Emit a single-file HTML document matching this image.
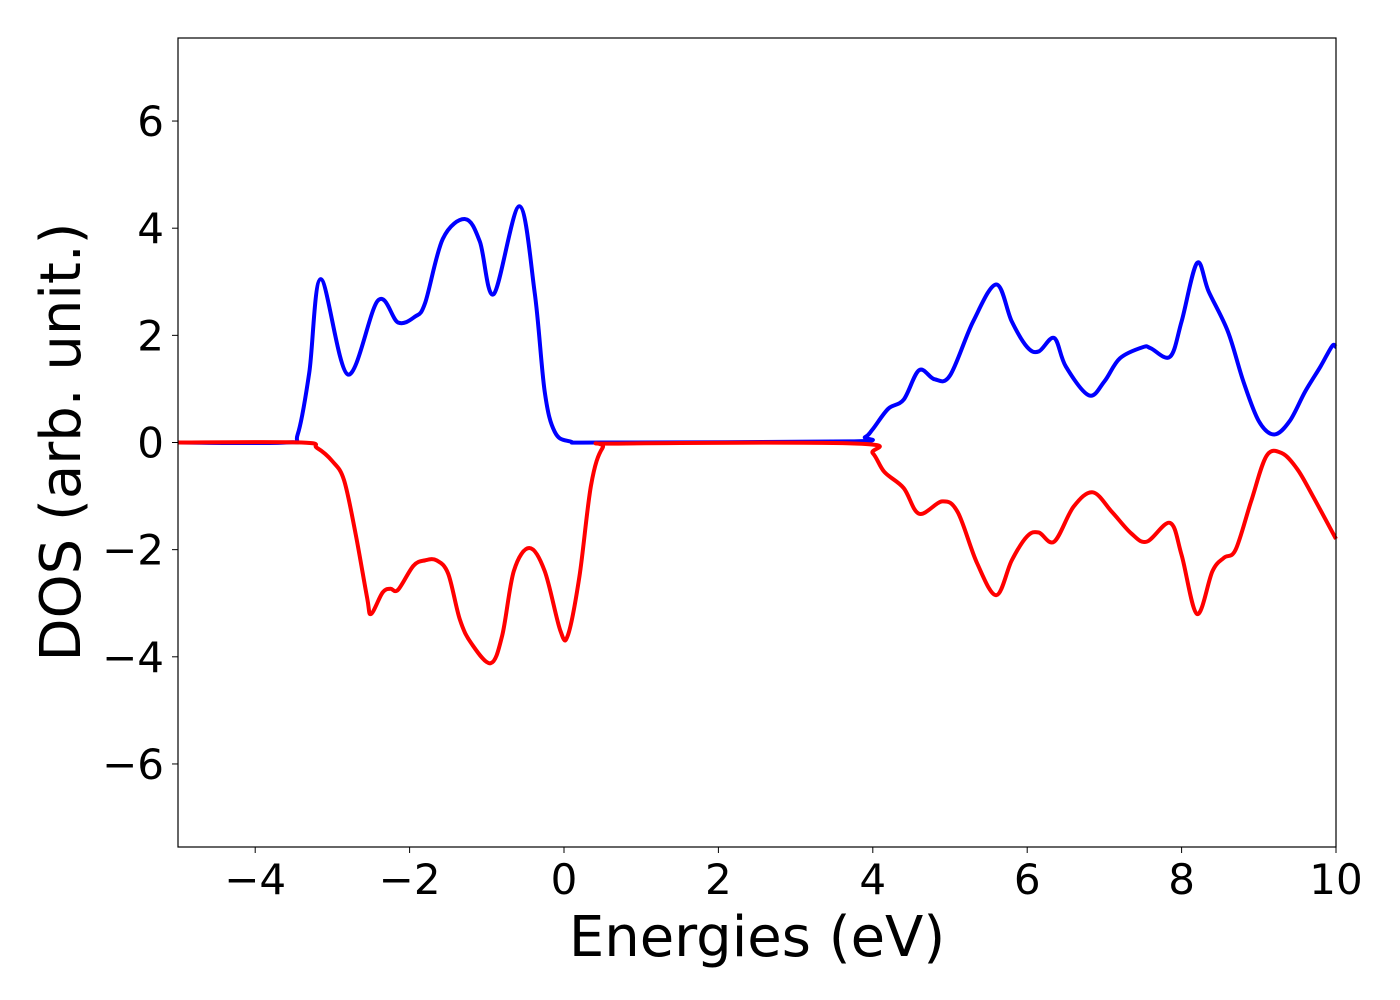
<!DOCTYPE html>
<html><head><meta charset="utf-8"><style>
html,body{margin:0;padding:0;background:#fff;}
svg{display:block;font-family:"DejaVu Sans","Liberation Sans",sans-serif;}
</style></head><body>
<svg id="chart" width="1400" height="1000" viewBox="0 0 1400 1000" xmlns="http://www.w3.org/2000/svg">
<rect width="1400" height="1000" fill="#fff"/>
<g id="plot"></g>
<rect x="178" y="38" width="1158" height="809" fill="none" stroke="#000" stroke-width="1.2"/>
<g id="ticks"></g>
<text x="757" y="956" font-size="56" text-anchor="middle">Energies (eV)</text>
<text transform="translate(80,442) rotate(-90)" font-size="56" text-anchor="middle">DOS (arb. unit.)</text>
</svg>
<script>
const upE = [-5,-3.6,-3.45,-3.3,-3.15,-2.8,-2.41,-2.15,-1.93,-1.8,-1.57,-1.28,-1.09,-0.91,-0.58,-0.38,-0.25,-0.12,0.08,0.5,3.7,3.9,4.0,4.2,4.4,4.6,4.8,5.0,5.3,5.6,5.8,6.0,6.15,6.35,6.5,6.8,7.0,7.2,7.5,7.6,7.85,8.0,8.2,8.35,8.6,8.8,9.0,9.2,9.4,9.6,9.8,9.95,10];
const upD = [0,0,0.15,1.3,3.05,1.27,2.65,2.24,2.35,2.6,3.8,4.17,3.75,2.77,4.41,2.8,0.95,0.2,0.02,0,0.02,0.1,0.25,0.63,0.8,1.35,1.18,1.25,2.26,2.95,2.26,1.78,1.7,1.95,1.42,0.88,1.14,1.57,1.78,1.76,1.6,2.26,3.35,2.82,2.07,1.14,0.4,0.15,0.4,0.95,1.42,1.8,1.78];
const dnE = [-5,-3.4,-3.2,-3.0,-2.85,-2.7,-2.55,-2.5,-2.35,-2.25,-2.15,-1.95,-1.8,-1.65,-1.5,-1.35,-1.2,-0.95,-0.8,-0.65,-0.45,-0.25,-0.05,0.05,0.2,0.35,0.5,0.7,3.8,4.0,4.15,4.4,4.6,4.9,5.1,5.35,5.6,5.8,6.0,6.15,6.35,6.6,6.85,7.1,7.35,7.55,7.85,8.0,8.2,8.4,8.55,8.7,8.9,9.1,9.3,9.5,9.7,10];
const dnD = [0,0,-0.1,-0.35,-0.7,-1.7,-2.9,-3.2,-2.8,-2.73,-2.75,-2.3,-2.2,-2.2,-2.45,-3.3,-3.75,-4.12,-3.6,-2.4,-1.97,-2.4,-3.5,-3.6,-2.5,-0.8,-0.1,-0.02,-0.02,-0.2,-0.55,-0.85,-1.33,-1.1,-1.3,-2.25,-2.85,-2.2,-1.75,-1.68,-1.85,-1.2,-0.93,-1.3,-1.7,-1.85,-1.5,-2.1,-3.2,-2.4,-2.15,-2.0,-1.1,-0.25,-0.2,-0.5,-1.0,-1.8];
const xTicks = [-4,-2,0,2,4,6,8,10];
const yTicks = [-6,-4,-2,0,2,4,6];

const X0=178,X1=1336,Y0=38,Y1=847,xmin=-5,xmax=10,ymin=-7.55,ymax=7.55;
const sx=v=>X0+(v-xmin)/(xmax-xmin)*(X1-X0);
const sy=v=>Y1-(v-ymin)/(ymax-ymin)*(Y1-Y0);
const NS="http://www.w3.org/2000/svg";
function path(E,D){
  const p=E.map((e,i)=>[sx(e),sy(D[i])]);
  let d="M"+p[0][0]+","+p[0][1];
  for(let i=0;i<p.length-1;i++){
    const a=p[Math.max(i-1,0)],b=p[i],c=p[i+1],n=p[Math.min(i+2,p.length-1)];
    const c1=[b[0]+(c[0]-a[0])/6,b[1]+(c[1]-a[1])/6];
    const c2=[c[0]-(n[0]-b[0])/6,c[1]-(n[1]-b[1])/6];
    d+=` C${c1[0]},${c1[1]} ${c2[0]},${c2[1]} ${c[0]},${c[1]}`;
  }
  return d;
}
const plot=document.getElementById("plot");
const up=document.createElementNS(NS,"path");


up.setAttribute("d",path(upE,upD));up.setAttribute("fill","none");up.setAttribute("stroke","#0000ff");up.setAttribute("stroke-width","4");
const dn=document.createElementNS(NS,"path");


dn.setAttribute("d",path(dnE,dnD));dn.setAttribute("fill","none");dn.setAttribute("stroke","#ff0000");dn.setAttribute("stroke-width","4");
plot.appendChild(up);plot.appendChild(dn);
const tg=document.getElementById("ticks");
const fmt=v=>v<0?"\u2212"+Math.abs(v):""+v;
xTicks.forEach(v=>{
  const l=document.createElementNS(NS,"line");
  
  
  l.setAttribute("x1",sx(v));l.setAttribute("x2",sx(v));l.setAttribute("y1",Y1);l.setAttribute("y2",Y1+6);l.setAttribute("stroke","#000");
  tg.appendChild(l);
  const t=document.createElementNS(NS,"text");
  
  
  t.setAttribute("x",sx(v));t.setAttribute("y",894);t.setAttribute("font-size","42");t.setAttribute("text-anchor","middle");
  t.textContent=fmt(v);tg.appendChild(t);
});
yTicks.forEach(v=>{
  const l=document.createElementNS(NS,"line");
  
  
  l.setAttribute("x1",X0-6);l.setAttribute("x2",X0);l.setAttribute("y1",sy(v));l.setAttribute("y2",sy(v));l.setAttribute("stroke","#000");
  tg.appendChild(l);
  const t=document.createElementNS(NS,"text");
  
  
  t.setAttribute("x",X0-14);t.setAttribute("y",sy(v)+15);t.setAttribute("font-size","42");t.setAttribute("text-anchor","end");
  t.textContent=fmt(v);tg.appendChild(t);
});
</script>
</body></html>
